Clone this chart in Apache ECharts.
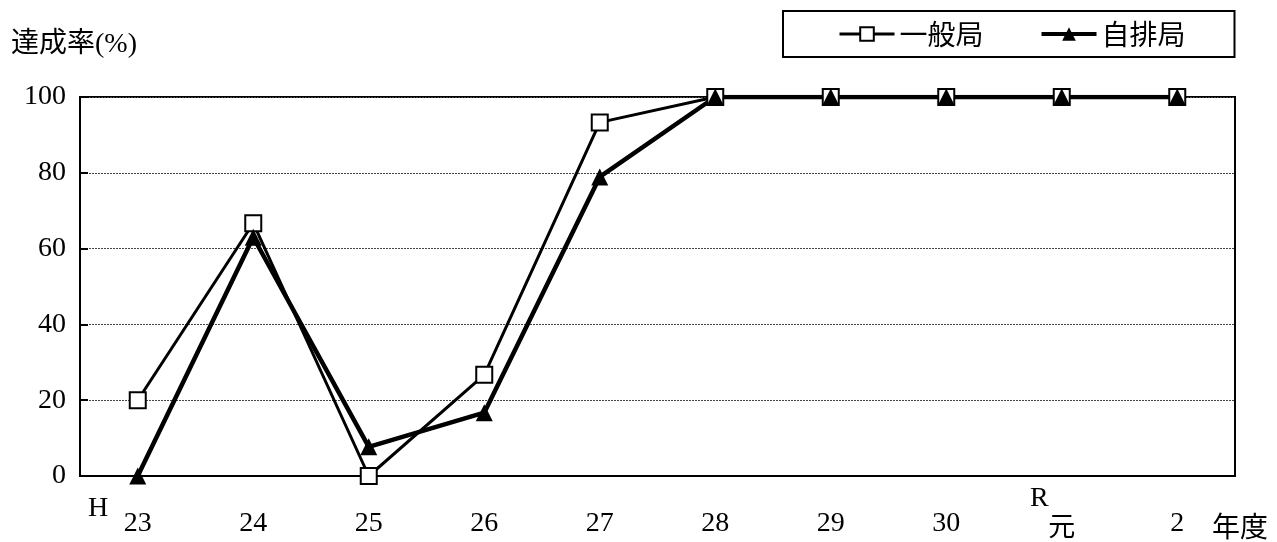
<!DOCTYPE html>
<html><head><meta charset="utf-8">
<script src="https://cdn.jsdelivr.net/npm/echarts@6/dist/echarts.min.js"></script>
<style>html,body{margin:0;padding:0;background:#fff}#c{width:1277px;height:542px}</style>
</head><body><div id="c"></div>
<script>
const categories = ['23','24','25','26','27','28','29','30','元','2'];
const ippan = [20, 66.7, 0, 26.7, 93.3, 100, 100, 100, 100, 100];
const jihai = [0, 63, 7.7, 16.7, 78.9, 100, 100, 100, 100, 100];
const seriesNames = ['一般局', '自排局'];
const yTicks = { min: 0, max: 100, interval: 20 };

const serif = '"Liberation Serif", "Noto Sans CJK JP", serif';
const jp = '"Noto Sans CJK JP", sans-serif';

const chart = echarts.init(document.getElementById('c'));
chart.setOption({
  animation: false,
  backgroundColor: '#fff',
  grid: { left: 80, right: 42, top: 97, bottom: 66, show: true, borderColor: '#000', borderWidth: 2, backgroundColor: 'transparent' },
  legend: {
    left: 783, top: 11,
    padding: [9, 49, 9, 55],
    itemGap: 56, itemWidth: 55, itemHeight: 17,
    borderColor: '#000', borderWidth: 2,
    textStyle: { fontFamily: jp, fontSize: 28, color: '#000' },
    data: [
      { name: seriesNames[0], lineStyle: { width: 3 } },
      { name: seriesNames[1], lineStyle: { width: 4 } }
    ]
  },
  xAxis: {
    type: 'category', data: categories, boundaryGap: true,
    axisLine: { lineStyle: { color: '#000', width: 2 } },
    axisTick: { inside: true, length: 10, lineStyle: { color: '#000', width: 2 } },
    axisLabel: { margin: 34, fontFamily: serif, fontSize: 28, color: '#000',
      formatter: v => v === '元' ? '{j|元}' : v,
      rich: { j: { fontFamily: jp, fontSize: 27, color: '#000', padding: [2, 0, 0, 0] } } }
  },
  yAxis: {
    type: 'value', min: yTicks.min, max: yTicks.max, interval: yTicks.interval,
    axisLine: { show: true, lineStyle: { color: '#000', width: 2 } },
    axisTick: { show: true, inside: true, length: 8, lineStyle: { color: '#000', width: 2 } },
    axisLabel: { margin: 14, fontFamily: serif, fontSize: 28, color: '#000' },
    splitLine: { lineStyle: { color: '#444', width: 1, type: [2, 1] } }
  },
  graphic: [
    { type: 'text', left: 11, top: 31, style: { text: '達成率(%)', fontFamily: serif, fontSize: 28, fill: '#000' } },
    { type: 'text', left: 88, top: 495, style: { text: 'H', fontFamily: serif, fontSize: 28, fill: '#000' } },
    { type: 'text', left: 1030, top: 485, style: { text: 'R', fontFamily: serif, fontSize: 28, fill: '#000' } },
    { type: 'text', left: 1212, top: 512, style: { text: '年度', fontFamily: jp, fontSize: 28, fill: '#000' } }
  ],
  series: [
    { name: seriesNames[0], type: 'line', data: ippan, symbol: 'rect', symbolSize: 16,
      lineStyle: { color: '#000', width: 3 },
      itemStyle: { color: '#fff', borderColor: '#000', borderWidth: 2 } },
    { name: seriesNames[1], type: 'line', data: jihai, symbol: 'triangle', symbolSize: 17,
      lineStyle: { color: '#000', width: 4.5 },
      itemStyle: { color: '#000', borderColor: '#000', borderWidth: 0 } }
  ]
});
</script></body></html>
